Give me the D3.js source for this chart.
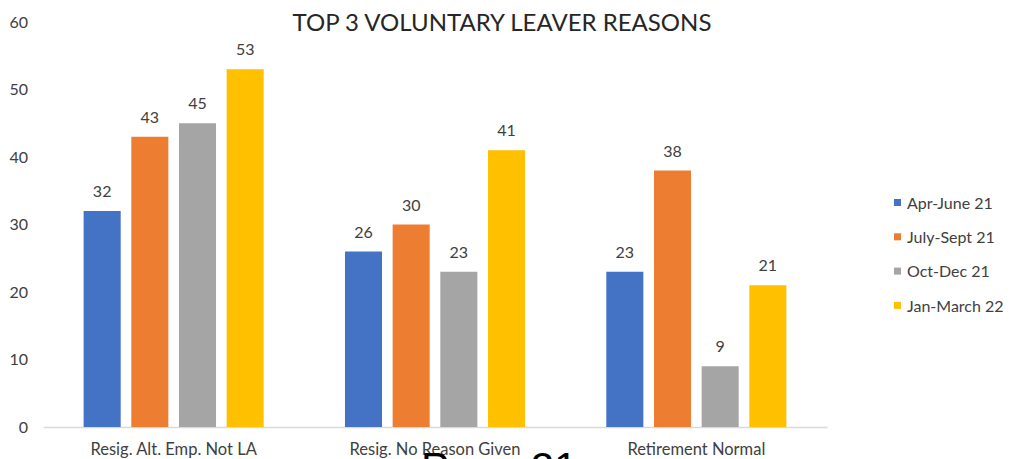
<!DOCTYPE html>
<html><head><meta charset="utf-8">
<script src="https://cdn.jsdelivr.net/npm/d3@7"></script>
<style>body{margin:0;background:#fff;}svg{display:block;}</style>
</head><body>
<svg id="chart" width="1011" height="459"></svg>
<script>
const categories = ["Resig. Alt. Emp. Not LA", "Resig. No Reason Given", "Retirement Normal"];
const seriesNames = ["Apr-June 21", "July-Sept 21", "Oct-Dec 21", "Jan-March 22"];
const aprJune21 = [32, 26, 23];
const julySept21 = [43, 30, 38];
const octDec21 = [45, 23, 9];
const janMarch22 = [53, 41, 21];
const yTicks = [0, 10, 20, 30, 40, 50, 60];
const colors = ["#4472C4", "#ED7D31", "#A5A5A5", "#FFC000"];
const seriesValues = [aprJune21, julySept21, octDec21, janMarch22];

const font = "Lato, 'Open Sans', sans-serif";
const svg = d3.select("#chart");
const x0 = d3.scaleBand().domain(categories).range([43, 827]).paddingInner(0.311).paddingOuter(0.1555);
const x1 = d3.scaleBand().domain(seriesNames).range([0, x0.bandwidth()]).paddingInner(0.223).paddingOuter(0);
const y = d3.scaleLinear().domain([0, 60]).range([427, 22]);

// title
svg.append("text").attr("x", 502).attr("y", 31).attr("text-anchor", "middle")
  .attr("font-family", font).attr("font-size", 24).attr("fill", "#262626")
  .text("TOP 3 VOLUNTARY LEAVER REASONS");

// y axis labels
const yAxis = d3.axisLeft(y).tickValues(yTicks).tickSize(0).tickPadding(0);
const gy = svg.append("g").attr("transform", "translate(28,0)").call(yAxis);
gy.select(".domain").remove();
gy.selectAll("text").attr("font-family", font).attr("font-size", 16).attr("fill", "#404040");

// x axis
const xAxis = d3.axisBottom(x0).tickSize(0).tickPadding(16);
const gx = svg.append("g").attr("transform", "translate(0,427)").call(xAxis);
gx.select(".domain").attr("stroke", "#D9D9D9").attr("stroke-width", 1.5);
gx.selectAll("text").attr("font-family", font).attr("font-size", 16.5).attr("fill", "#404040");

// bars
const groups = svg.append("g").selectAll("g").data(categories).join("g")
  .attr("transform", d => `translate(${x0(d)},0)`);
seriesNames.forEach((s, si) => {
  groups.append("rect")
    .attr("x", x1(s)).attr("width", x1.bandwidth())
    .attr("y", (d, ci) => y(seriesValues[si][ci]))
    .attr("height", (d, ci) => y(0) - y(seriesValues[si][ci]))
    .attr("fill", colors[si]);
  groups.append("text")
    .attr("x", x1(s) + x1.bandwidth() / 2)
    .attr("y", (d, ci) => y(seriesValues[si][ci]) - 14)
    .attr("text-anchor", "middle")
    .attr("font-family", font).attr("font-size", 16).attr("fill", "#404040")
    .text((d, ci) => seriesValues[si][ci]);
});

// legend
const leg = svg.append("g").selectAll("g").data(seriesNames).join("g")
  .attr("transform", (d, i) => `translate(894,${203 + i * 34.3})`);
leg.append("rect").attr("x", 0).attr("y", -4).attr("width", 7).attr("height", 7).attr("fill", (d, i) => colors[i]);
leg.append("text").attr("x", 13).attr("y", 0).attr("dy", "0.35em")
  .attr("font-family", font).attr("font-size", 16).attr("fill", "#404040").text(d => d);

// overlapping page text
svg.append("text").attr("x", 421).attr("y", 482)
  .attr("font-family", "'Liberation Sans', Arial, sans-serif").attr("font-size", 42).attr("fill", "#000")
  .text("Page 21");
</script>
</body></html>
